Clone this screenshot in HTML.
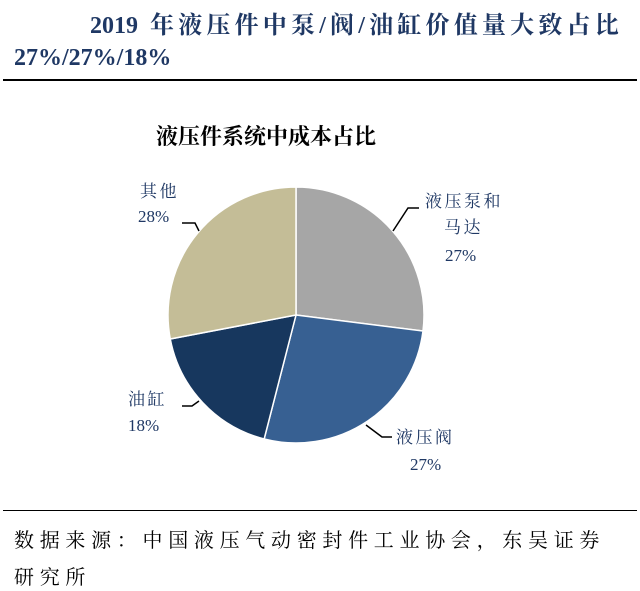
<!DOCTYPE html>
<html><head><meta charset="utf-8"><style>
body{margin:0;width:640px;height:591px;background:#fff;overflow:hidden;font-family:"Liberation Serif","Noto Serif CJK SC",serif;}
.t{position:absolute;white-space:nowrap;}
.cj{letter-spacing:4.2px;}
</style></head><body>
<div class="t" style="left:90px;top:5px;font-size:24px;font-weight:bold;color:#1f3864;">2019&nbsp; <span class="cj">年液压件中泵/阀/油缸价值量大致占比</span></div>
<div class="t" style="left:14px;top:45px;font-size:24px;font-weight:bold;color:#1f3864;">27%/27%/18%</div>
<div style="position:absolute;left:3px;top:79px;width:634px;height:2px;background:#000;"></div>
<svg width="640" height="591" style="position:absolute;left:0;top:0">
<text x="266" y="144" text-anchor="middle" font-size="22" font-weight="bold" fill="#000" font-family="Noto Serif CJK SC, Noto Sans CJK SC, serif">液压件系统中成本占比</text>
<g id="slices"></g>
<g fill="#1f3864" font-size="17" font-family="Liberation Serif, Noto Serif CJK SC, serif" stroke="none">
<text x="140" y="197" letter-spacing="2.5">其他</text>
<text x="138" y="222">28%</text>
<text x="425" y="207" letter-spacing="2.5">液压泵和</text>
<text x="444" y="233" letter-spacing="2.5">马达</text>
<text x="445" y="261">27%</text>
<text x="128" y="405" letter-spacing="2.5">油缸</text>
<text x="128" y="431">18%</text>
<text x="396" y="443" letter-spacing="2.5">液压阀</text>
<text x="410" y="470">27%</text>
</g>
<g stroke="#000" stroke-width="1.5" fill="none">
<polyline points="182,223 195,223 199,231"/>
<polyline points="419,208 408,208 393,231"/>
<polyline points="182,406 192,406 199,401"/>
<polyline points="392,437 382,437 366,425"/>
</g>
</svg>
<div style="position:absolute;left:3px;top:510px;width:634px;height:1px;background:#000;"></div>
<div class="t" style="left:14px;top:524px;font-size:20px;letter-spacing:5.7px;color:#000;">数据来源：中国液压气动密封件工业协会，东吴证券</div>
<div class="t" style="left:14px;top:561px;font-size:20px;letter-spacing:5.7px;color:#000;">研究所</div>
<script>
const categories=["液压泵和马达","液压阀","油缸","其他"];
const values=[27,27,18,28];
const colors=["#a6a6a6","#376092","#17375e","#c4bd97"];
const cx=296,cy=315,r=128;
const g=document.getElementById('slices');
const total=values.reduce((a,b)=>a+b,0);
let a0=-Math.PI/2;
values.forEach((v,i)=>{
  const a1=a0+v/total*2*Math.PI;
  const x0=cx+r*Math.cos(a0),y0=cy+r*Math.sin(a0),x1=cx+r*Math.cos(a1),y1=cy+r*Math.sin(a1);
  const p=document.createElementNS('http://www.w3.org/2000/svg','path');
  p.setAttribute('d',`M${cx},${cy}L${x0},${y0}A${r},${r} 0 ${a1-a0>Math.PI?1:0} 1 ${x1},${y1}Z`);
  p.setAttribute('fill',colors[i]);
  p.setAttribute('stroke','#fff');
  p.setAttribute('stroke-width','1.5');
  
  
  g.appendChild(p);
  a0=a1;
});
</script>
</body></html>
